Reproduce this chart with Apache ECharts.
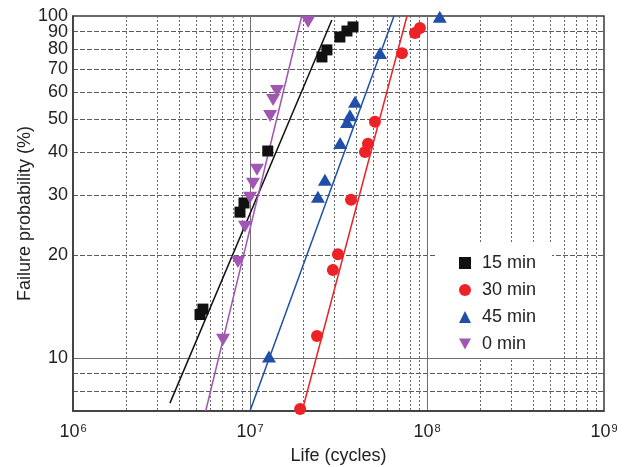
<!DOCTYPE html>
<html>
<head>
<meta charset="utf-8">
<script src="https://cdn.jsdelivr.net/npm/echarts@6/dist/echarts.min.js"></script>
<style>
html, body { margin: 0; padding: 0; background: #fff; }
#chart { width: 625px; height: 467px; }
</style>
</head>
<body>
<div id="chart"></div>
<script>
// measured points (life in cycles, failure probability in %)
var life15 = [5.22e6, 5.42e6, 8.78e6, 9.25e6, 1.26e7, 2.55e7, 2.72e7, 3.22e7, 3.53e7, 3.82e7];
var prob15 = [13.4, 13.9, 26.7, 28.4, 40.3, 75.9, 79.6, 86.8, 90.4, 92.9];
var life30 = [1.92e7, 2.39e7, 2.94e7, 3.14e7, 3.72e7, 4.46e7, 4.64e7, 5.08e7, 7.22e7, 8.55e7, 9.12e7];
var prob30 = [7.1, 11.6, 18.1, 20.1, 29.0, 40.0, 42.3, 49.1, 77.8, 89.2, 92.2];
var life45 = [1.28e7, 2.42e7, 2.65e7, 3.23e7, 3.53e7, 3.67e7, 3.92e7, 5.43e7, 1.18e8];
var prob45 = [10.1, 29.6, 33.2, 42.5, 49.0, 51.3, 56.1, 77.9, 99.5];
var life0 = [7.04e6, 8.55e6, 9.37e6, 1.0e7, 1.04e7, 1.095e7, 1.30e7, 1.35e7, 1.42e7, 2.13e7];
var prob0 = [11.3, 19.1, 24.2, 29.4, 32.3, 35.5, 51.0, 56.8, 60.4, 96.0];

// fitted lines, end points
var fitLife15 = [3.53e6, 2.9e7];
var fitProb15 = [7.38, 97.3];
var fitLife30 = [1.97e7, 7.71e7];
var fitProb30 = [7, 100];
var fitLife45 = [1.0e7, 6.51e7];
var fitProb45 = [7, 100];
var fitLife0 = [5.62e6, 1.96e7];
var fitProb0 = [7, 100];

// axis ticks and grid lines
var xMajor = [1e6, 1e7, 1e8, 1e9];
var xSolid = [1e7, 1e8];
var xMinor = [2e6, 3e6, 4e6, 5e6, 6e6, 7e6, 8e6, 9e6,
              2e7, 3e7, 4e7, 5e7, 6e7, 7e7, 8e7, 9e7,
              2e8, 3e8, 4e8, 5e8, 6e8, 7e8, 8e8, 9e8];
var yLabels = [10, 20, 30, 40, 50, 60, 70, 80, 90, 100];
var ySolid = [10];
var yMinor = [8, 9, 20, 30, 40, 50, 60, 70, 80, 90];

var names = ['15 min', '30 min', '45 min', '0 min'];
var colors = ['#111111', '#ec2227', '#1f4fa6', '#a056b2'];

var font = 'Liberation Sans, Arial, Helvetica, sans-serif';

function zip(xs, ys) {
    var out = [];
    for (var i = 0; i < xs.length; i++) {
        out.push([xs[i], ys[i]]);
    }
    return out;
}

function scatter(name, xs, ys, color, symbol, size) {
    return {
        name: name,
        type: 'scatter',
        data: zip(xs, ys),
        symbol: symbol,
        symbolSize: size,
        itemStyle: { color: color, opacity: 1 },
        z: 4
    };
}

function fit(xs, ys, color) {
    return {
        name: 'fit',
        type: 'line',
        data: zip(xs, ys),
        showSymbol: false,
        symbol: 'none',
        lineStyle: { color: color, width: 1.5 },
        silent: true,
        z: 3
    };
}

function y_label(values) {
    return {
        customValues: values,
        margin: 5,
        showMaxLabel: true,
        showMinLabel: true,
        hideOverlap: false,
        fontFamily: font,
        fontSize: 18,
        color: '#222',
        formatter: function (v) {
            return String(Math.round(v));
        }
    };
}

// labels are split over the two y axes so the tight 80/90/100 group is not thinned
var yLabelsA = yLabels.filter(function (v, i) { return i % 2 === 0; });
var yLabelsB = yLabels.filter(function (v, i) { return i % 2 === 1; });

var chart = echarts.init(document.getElementById('chart'));

var option = {
    animation: false,
    backgroundColor: '#fff',
    grid: {
        left: 73, right: 21, top: 16, bottom: 56,
        outerBoundsMode: 'none',
        containLabel: false,
        show: true,
        borderColor: '#3a3a3a',
        borderWidth: 1.5,
        backgroundColor: 'transparent'
    },
    legend: {
        data: names,
        orient: 'vertical',
        left: 437,
        top: 242,
        padding: [12, 16, 5, 22],
        itemGap: 9,
        itemWidth: 12,
        itemHeight: 12,
        backgroundColor: '#fff',
        textStyle: { fontFamily: font, fontSize: 18, color: '#222', padding: [0, 0, 0, 6] },
        z: 10
    },
    xAxis: [
        {
            type: 'log',
            logBase: 10,
            min: 1e6,
            max: 1e9,
            name: 'Life (cycles)',
            nameLocation: 'middle',
            nameGap: 36,
            nameMoveOverlap: false,
            nameTextStyle: { fontFamily: font, fontSize: 18, color: '#222' },
            axisLine: { show: true, lineStyle: { color: '#3a3a3a', width: 1.5 } },
            axisTick: { show: false, customValues: xSolid },
            axisLabel: {
                customValues: xMajor,
                margin: 12,
                formatter: function (v) {
                    return '{b|10}{s|' + Math.round(Math.log10(v)) + '}';
                },
                rich: {
                    b: { fontFamily: font, fontSize: 18, color: '#222' },
                    s: { fontFamily: font, fontSize: 11, color: '#222', verticalAlign: 'top', padding: [0, 0, 8, 1] }
                }
            },
            splitLine: { show: true, lineStyle: { color: '#6e6e6e', width: 1, type: 'solid' } },
            z: 1
        },
        {
            type: 'log',
            logBase: 10,
            min: 1e6,
            max: 1e9,
            axisLine: { show: false },
            axisLabel: { show: false },
            axisTick: { show: false, customValues: xMinor },
            splitLine: { show: true, lineStyle: { color: '#6a6a6a', width: 1, type: [2, 2] } },
            z: 0
        }
    ],
    yAxis: [
        {
            type: 'log',
            logBase: 10,
            min: 7,
            max: 100,
            name: 'Failure probability (%)',
            nameLocation: 'middle',
            nameGap: 39,
            nameMoveOverlap: false,
            nameTextStyle: { fontFamily: font, fontSize: 18, color: '#222' },
            axisLine: { show: true, lineStyle: { color: '#3a3a3a', width: 1.5 } },
            axisTick: { show: false, customValues: ySolid },
            axisLabel: y_label(yLabelsA),
            splitLine: { show: true, lineStyle: { color: '#6e6e6e', width: 1, type: 'solid' } },
            z: 1
        },
        {
            type: 'log',
            logBase: 10,
            min: 7,
            max: 100,
            position: 'left',
            axisLine: { show: false },
            axisLabel: y_label(yLabelsB),
            axisTick: { show: false, customValues: yMinor },
            splitLine: { show: true, lineStyle: { color: '#5a5a5a', width: 1, type: [5, 2] } },
            z: 0
        }
    ],
    series: [
        scatter(names[0], life15, prob15, colors[0], 'rect', 11),
        scatter(names[1], life30, prob30, colors[1], 'circle', 12),
        scatter(names[2], life45, prob45, colors[2], 'triangle', [14, 12]),
        scatter(names[3], life0, prob0, colors[3], 'path://M0,0L12,0L6,11Z', [14, 12]),
        fit(fitLife15, fitProb15, colors[0]),
        fit(fitLife30, fitProb30, colors[1]),
        fit(fitLife45, fitProb45, colors[2]),
        fit(fitLife0, fitProb0, colors[3])
    ]
};

chart.setOption(option);
</script>
</body>
</html>
